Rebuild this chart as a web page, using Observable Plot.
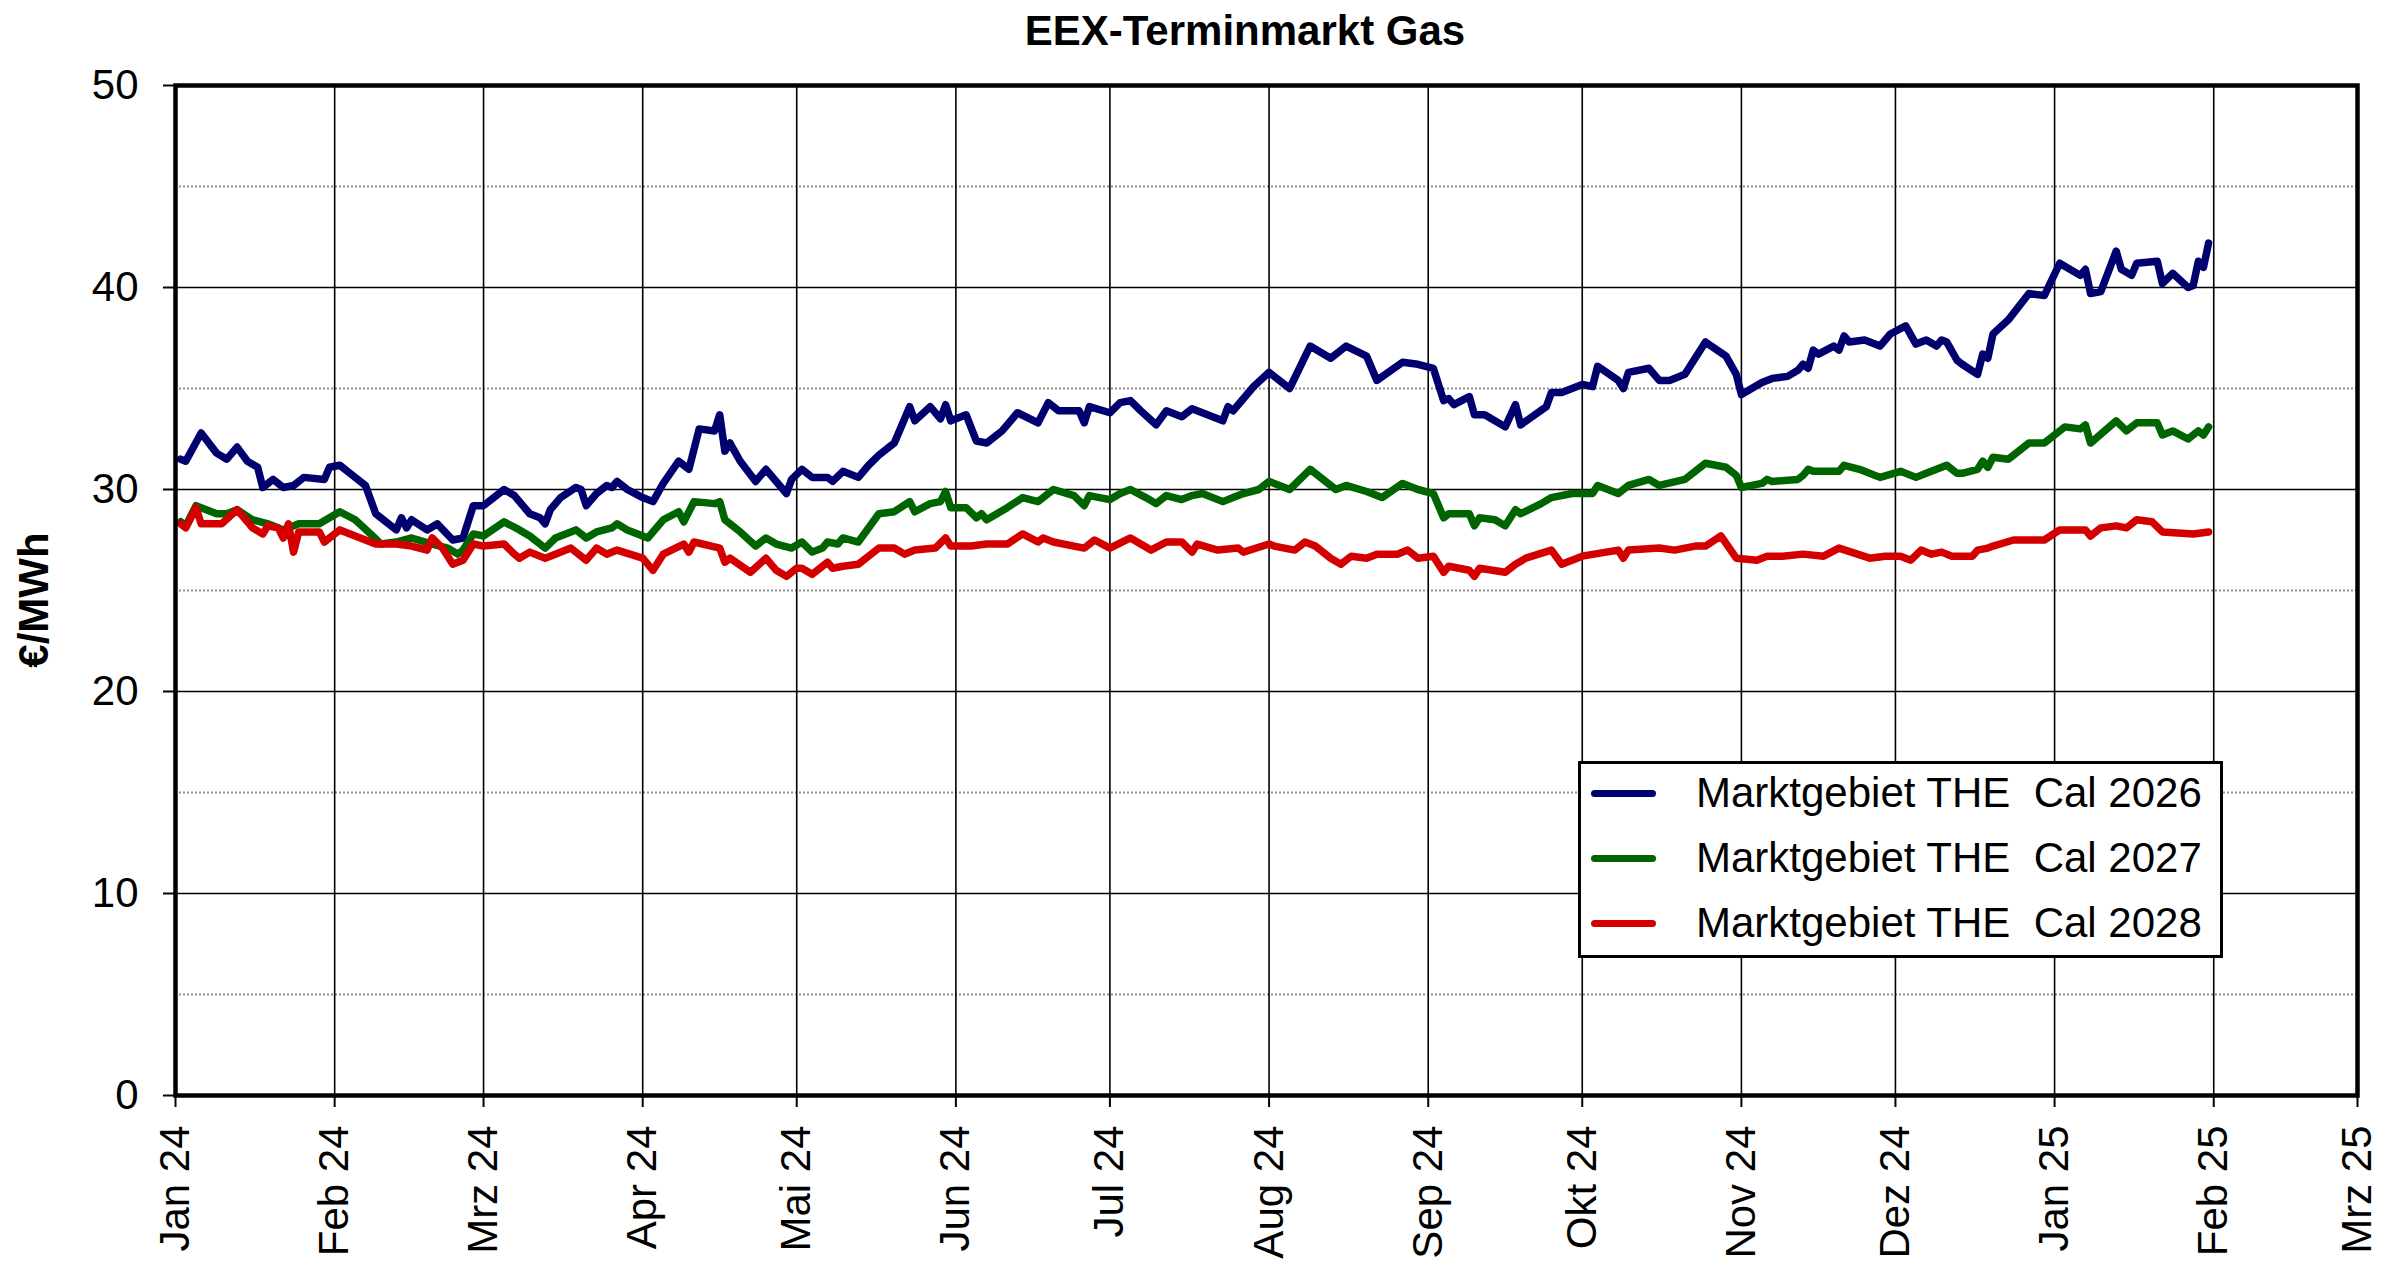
<!DOCTYPE html>
<html>
<head>
<meta charset="utf-8">
<script src="https://cdn.jsdelivr.net/npm/d3@7"></script>
<script src="https://cdn.jsdelivr.net/npm/@observablehq/plot@0.6"></script>
<style>
html,body{margin:0;padding:0;background:#fff;}
#wrap{position:relative;width:2400px;height:1277px;font-family:"Liberation Sans",Arial,sans-serif;color:#000;overflow:hidden;}
#chart{position:absolute;left:0;top:0;}
#title{position:absolute;left:1245px;top:10px;transform:translateX(-50%);font-size:42px;font-weight:bold;line-height:1;white-space:nowrap;}
#ylabel{position:absolute;left:34px;top:600px;transform:translate(-50%,-50%) rotate(-90deg);font-size:42px;font-weight:bold;line-height:1;white-space:nowrap;}
#legend{position:absolute;left:1578px;top:761px;width:645px;height:197px;box-sizing:border-box;border:3px solid #000;background:#fff;}
.lg-line{position:absolute;left:10px;width:65px;height:7px;border-radius:4px;}
.lg-text{position:absolute;left:115px;height:42px;line-height:42px;font-size:42px;white-space:pre;}
</style>
</head>
<body>
<div id="wrap">
  <div id="chart"></div>
  <div id="title">EEX-Terminmarkt Gas</div>
  <div id="ylabel">€/MWh</div>
  <div id="legend"></div>
</div>
<script>
// ---- data ----
const seriesNames = ["Marktgebiet THE  Cal 2026", "Marktgebiet THE  Cal 2027", "Marktgebiet THE  Cal 2028"];
const seriesColors = ["#00006e", "#006400", "#d40000"];
const monthNames = ["Jan","Feb","Mrz","Apr","Mai","Jun","Jul","Aug","Sep","Okt","Nov","Dez"];
const yMajorTicks = [0, 10, 20, 30, 40, 50];
const yMinorTicks = [5, 15, 25, 35, 45];

const dates2026 = ["2024-01-02","2024-01-03","2024-01-06","2024-01-09","2024-01-11","2024-01-13","2024-01-15","2024-01-17","2024-01-18","2024-01-20","2024-01-22","2024-01-24","2024-01-26","2024-01-30","2024-01-31",
"2024-02-02","2024-02-04","2024-02-07","2024-02-09","2024-02-13","2024-02-14","2024-02-15","2024-02-16","2024-02-19","2024-02-21","2024-02-24","2024-02-26","2024-02-28",
"2024-03-01","2024-03-05","2024-03-07","2024-03-10","2024-03-12","2024-03-13","2024-03-14","2024-03-16","2024-03-19","2024-03-20","2024-03-21","2024-03-23","2024-03-25","2024-03-26","2024-03-27","2024-03-29",
"2024-04-01","2024-04-03","2024-04-05","2024-04-08","2024-04-10","2024-04-12","2024-04-15","2024-04-16","2024-04-17","2024-04-18","2024-04-20","2024-04-23","2024-04-25","2024-04-29","2024-04-30",
"2024-05-02","2024-05-04","2024-05-07","2024-05-08","2024-05-10","2024-05-13","2024-05-15","2024-05-17","2024-05-20","2024-05-21","2024-05-23","2024-05-24","2024-05-27","2024-05-29","2024-05-30","2024-05-31",
"2024-06-03","2024-06-05","2024-06-07","2024-06-10","2024-06-13","2024-06-17","2024-06-19","2024-06-21","2024-06-25","2024-06-26","2024-06-27",
"2024-07-01","2024-07-03","2024-07-05","2024-07-07","2024-07-10","2024-07-12","2024-07-15","2024-07-17","2024-07-19","2024-07-23","2024-07-24","2024-07-25","2024-07-29",
"2024-08-01","2024-08-05","2024-08-09","2024-08-13","2024-08-16","2024-08-20","2024-08-22","2024-08-27","2024-08-30",
"2024-09-02","2024-09-04","2024-09-05","2024-09-06","2024-09-09","2024-09-10","2024-09-12","2024-09-16","2024-09-18","2024-09-19","2024-09-24","2024-09-25","2024-09-27",
"2024-10-01","2024-10-03","2024-10-04","2024-10-08","2024-10-09","2024-10-10","2024-10-14","2024-10-16","2024-10-18","2024-10-21","2024-10-25","2024-10-29","2024-10-31",
"2024-11-01","2024-11-05","2024-11-07","2024-11-10","2024-11-12","2024-11-13","2024-11-14","2024-11-15","2024-11-16","2024-11-19","2024-11-20","2024-11-21","2024-11-22","2024-11-25","2024-11-28","2024-11-30",
"2024-12-03","2024-12-05","2024-12-07","2024-12-09","2024-12-10","2024-12-11","2024-12-13","2024-12-14","2024-12-17","2024-12-18","2024-12-19","2024-12-20","2024-12-23","2024-12-27","2024-12-30",
"2025-01-02","2025-01-06","2025-01-07","2025-01-08","2025-01-10","2025-01-13","2025-01-14","2025-01-16","2025-01-17","2025-01-21","2025-01-22","2025-01-24","2025-01-27","2025-01-28","2025-01-29","2025-01-30","2025-01-31"];
const cal2026 = [31.5,31.4,32.8,31.8,31.5,32.1,31.4,31.1,30.1,30.5,30.1,30.2,30.6,30.5,31.1,
31.2,30.8,30.2,28.8,28.0,28.6,28.1,28.5,28.0,28.3,27.5,27.6,29.2,
29.2,30.0,29.7,28.8,28.6,28.3,29.0,29.6,30.1,30.0,29.2,29.8,30.2,30.1,30.4,30.0,
29.6,29.4,30.3,31.4,31.0,33.0,32.9,33.7,31.9,32.3,31.4,30.4,31.0,29.8,30.5,
31.0,30.6,30.6,30.4,30.9,30.6,31.2,31.7,32.3,32.9,34.1,33.4,34.1,33.5,34.2,33.4,
33.7,32.4,32.3,32.9,33.8,33.3,34.3,33.9,33.9,33.3,34.1,
33.8,34.3,34.4,33.9,33.2,33.9,33.6,34.0,33.8,33.4,34.1,33.9,35.1,
35.8,35.0,37.1,36.5,37.1,36.6,35.4,36.3,36.2,
36.0,34.4,34.5,34.2,34.6,33.7,33.7,33.1,34.2,33.2,34.1,34.8,34.8,
35.2,35.1,36.1,35.4,35.0,35.8,36.0,35.4,35.4,35.7,37.3,36.6,35.7,
34.7,35.3,35.5,35.6,35.9,36.2,36.0,36.9,36.7,37.1,36.9,37.6,37.3,37.4,37.1,37.7,
38.1,37.2,37.4,37.1,37.4,37.3,36.4,36.2,35.7,36.7,36.5,37.7,38.4,39.7,39.6,
41.2,40.6,40.9,39.7,39.8,41.8,40.9,40.6,41.2,41.3,40.2,40.7,40.0,40.1,41.3,41.0,42.2];

const dates2027 = ["2024-01-02","2024-01-03","2024-01-05","2024-01-09","2024-01-11","2024-01-13","2024-01-16","2024-01-19","2024-01-22","2024-01-25","2024-01-29",
"2024-02-02","2024-02-05","2024-02-08","2024-02-10","2024-02-13","2024-02-16","2024-02-20","2024-02-23","2024-02-25","2024-02-26","2024-02-28",
"2024-03-01","2024-03-05","2024-03-08","2024-03-10","2024-03-13","2024-03-15","2024-03-19","2024-03-21","2024-03-23","2024-03-26","2024-03-27","2024-03-29",
"2024-04-02","2024-04-05","2024-04-08","2024-04-09","2024-04-11","2024-04-15","2024-04-16","2024-04-17","2024-04-20","2024-04-23","2024-04-25","2024-04-27","2024-04-30",
"2024-05-02","2024-05-04","2024-05-06","2024-05-07","2024-05-09","2024-05-10","2024-05-13","2024-05-17","2024-05-20","2024-05-23","2024-05-24","2024-05-27","2024-05-29","2024-05-30","2024-05-31",
"2024-06-03","2024-06-05","2024-06-06","2024-06-07","2024-06-11","2024-06-14","2024-06-17","2024-06-20","2024-06-24","2024-06-26","2024-06-27",
"2024-07-01","2024-07-03","2024-07-05","2024-07-08","2024-07-10","2024-07-12","2024-07-15","2024-07-17","2024-07-19","2024-07-23","2024-07-25","2024-07-27","2024-07-30",
"2024-08-01","2024-08-05","2024-08-09","2024-08-14","2024-08-16","2024-08-20","2024-08-23","2024-08-27","2024-08-30",
"2024-09-02","2024-09-04","2024-09-05","2024-09-09","2024-09-10","2024-09-11","2024-09-14","2024-09-16","2024-09-18","2024-09-19","2024-09-23","2024-09-25","2024-09-29",
"2024-10-01","2024-10-03","2024-10-04","2024-10-08","2024-10-10","2024-10-14","2024-10-16","2024-10-21","2024-10-25","2024-10-29","2024-10-31",
"2024-11-01","2024-11-05","2024-11-06","2024-11-07","2024-11-12","2024-11-13","2024-11-14","2024-11-15","2024-11-20","2024-11-21","2024-11-24","2024-11-28",
"2024-12-02","2024-12-05","2024-12-07","2024-12-10","2024-12-11","2024-12-13","2024-12-14","2024-12-17","2024-12-18","2024-12-19","2024-12-20","2024-12-23","2024-12-27","2024-12-30",
"2025-01-03","2025-01-06","2025-01-07","2025-01-08","2025-01-13","2025-01-15","2025-01-17","2025-01-21","2025-01-22","2025-01-24","2025-01-27","2025-01-29","2025-01-30","2025-01-31"];
const cal2027 = [28.4,28.2,29.2,28.8,28.8,29.0,28.5,28.3,28.0,28.3,28.3,
28.9,28.5,27.8,27.3,27.4,27.6,27.3,27.1,26.8,27.0,27.8,
27.7,28.4,28.0,27.7,27.1,27.6,28.0,27.6,27.9,28.1,28.3,28.0,
27.6,28.5,28.9,28.4,29.4,29.3,29.4,28.5,27.9,27.2,27.6,27.3,27.1,
27.4,26.9,27.1,27.4,27.3,27.6,27.4,28.8,28.9,29.4,28.9,29.3,29.4,29.9,29.1,
29.1,28.6,28.8,28.5,29.1,29.6,29.4,30.0,29.7,29.2,29.7,
29.5,29.8,30.0,29.6,29.3,29.7,29.5,29.7,29.8,29.4,29.6,29.8,30.0,
30.4,30.0,31.0,30.0,30.2,29.9,29.6,30.3,30.0,
29.8,28.6,28.8,28.8,28.2,28.6,28.5,28.2,29.0,28.8,29.3,29.6,29.8,
29.8,29.8,30.2,29.8,30.2,30.5,30.2,30.5,31.3,31.1,30.7,
30.1,30.3,30.5,30.4,30.5,30.7,31.0,30.9,30.9,31.2,31.0,30.6,
30.9,30.6,30.8,31.1,31.2,30.8,30.8,31.0,31.4,31.1,31.6,31.5,32.3,32.3,
33.1,33.0,33.2,32.3,33.4,32.9,33.3,33.3,32.7,32.9,32.5,32.9,32.7,33.1];

const dates2028 = ["2024-01-02","2024-01-03","2024-01-05","2024-01-06","2024-01-10","2024-01-13","2024-01-16","2024-01-18","2024-01-19","2024-01-21","2024-01-22","2024-01-23","2024-01-24","2024-01-25","2024-01-29","2024-01-30",
"2024-02-02","2024-02-05","2024-02-09","2024-02-13","2024-02-16","2024-02-19","2024-02-20","2024-02-22","2024-02-24","2024-02-26","2024-02-28",
"2024-03-01","2024-03-05","2024-03-07","2024-03-08","2024-03-10","2024-03-13","2024-03-15","2024-03-18","2024-03-21","2024-03-23","2024-03-25","2024-03-27",
"2024-04-01","2024-04-03","2024-04-05","2024-04-09","2024-04-10","2024-04-11","2024-04-16","2024-04-17","2024-04-18","2024-04-22","2024-04-25","2024-04-27","2024-04-29",
"2024-05-01","2024-05-02","2024-05-04","2024-05-07","2024-05-08","2024-05-10","2024-05-13","2024-05-15","2024-05-17","2024-05-20","2024-05-22","2024-05-24","2024-05-28","2024-05-30","2024-05-31",
"2024-06-04","2024-06-07","2024-06-11","2024-06-14","2024-06-17","2024-06-18","2024-06-20","2024-06-24","2024-06-26","2024-06-28",
"2024-07-01","2024-07-05","2024-07-09","2024-07-12","2024-07-15","2024-07-17","2024-07-18","2024-07-22","2024-07-26","2024-07-27",
"2024-08-01","2024-08-02","2024-08-06","2024-08-08","2024-08-10","2024-08-13","2024-08-15","2024-08-17","2024-08-20","2024-08-22","2024-08-26","2024-08-28","2024-08-30",
"2024-09-02","2024-09-04","2024-09-05","2024-09-09","2024-09-10","2024-09-11","2024-09-16","2024-09-18","2024-09-20","2024-09-25","2024-09-27",
"2024-10-01","2024-10-08","2024-10-09","2024-10-10","2024-10-16","2024-10-19","2024-10-23","2024-10-25","2024-10-28","2024-10-31",
"2024-11-04","2024-11-06","2024-11-09","2024-11-13","2024-11-17","2024-11-20","2024-11-26","2024-11-29",
"2024-12-02","2024-12-04","2024-12-06","2024-12-08","2024-12-10","2024-12-12","2024-12-16","2024-12-17","2024-12-19","2024-12-20","2024-12-24","2024-12-30",
"2025-01-02","2025-01-07","2025-01-08","2025-01-10","2025-01-13","2025-01-15","2025-01-17","2025-01-20","2025-01-22","2025-01-28","2025-01-31"];
const cal2028 = [28.3,28.1,29.1,28.3,28.3,29.0,28.1,27.8,28.2,28.1,27.6,28.3,26.9,27.9,27.9,27.4,
28.0,27.7,27.3,27.3,27.2,27.0,27.6,27.1,26.3,26.5,27.3,
27.2,27.3,26.8,26.6,26.9,26.6,26.8,27.1,26.5,27.1,26.8,27.0,
26.6,26.0,26.8,27.3,26.9,27.4,27.1,26.4,26.6,25.9,26.6,26.0,25.7,
26.1,26.1,25.8,26.4,26.1,26.2,26.3,26.7,27.1,27.1,26.8,27.0,27.1,27.6,27.2,
27.2,27.3,27.3,27.8,27.4,27.6,27.4,27.2,27.1,27.5,
27.1,27.6,27.0,27.4,27.4,26.9,27.3,27.0,27.1,26.9,
27.3,27.2,27.0,27.4,27.2,26.6,26.3,26.7,26.6,26.8,26.8,27.0,26.6,
26.7,25.9,26.2,26.0,25.7,26.1,25.9,26.3,26.6,27.0,26.3,
26.7,27.0,26.6,27.0,27.1,27.0,27.2,27.2,27.7,26.6,
26.5,26.7,26.7,26.8,26.7,27.1,26.6,26.7,
26.7,26.5,27.0,26.8,26.9,26.7,26.7,27.0,27.1,27.2,27.5,27.5,
28.0,28.0,27.7,28.1,28.2,28.1,28.5,28.4,27.9,27.8,27.9];

// ---- build rows ----
const seriesDates = [dates2026, dates2027, dates2028];
const seriesValues = [cal2026, cal2027, cal2028];
const rows = [];
seriesNames.forEach((name, i) => {
  seriesDates[i].forEach((d, j) => rows.push({series: name, date: new Date(d + "T00:00:00Z"), value: seriesValues[i][j]}));
});

const xStart = new Date("2024-01-01T00:00:00Z");
const xEnd = new Date("2025-03-01T00:00:00Z");
const monthTicks = d3.utcMonth.range(xStart, new Date("2025-03-02T00:00:00Z"));
const fmtMonth = d => monthNames[d.getUTCMonth()] + " " + String(d.getUTCFullYear()).slice(2);

const chart = Plot.plot({
  width: 2400,
  height: 1277,
  marginTop: 85,
  marginBottom: 182,
  marginLeft: 175,
  marginRight: 43,
  style: {fontFamily: '"Liberation Sans", Arial, sans-serif', fontSize: "42px", color: "#000", background: "#fff"},
  x: {type: "utc", domain: [xStart, xEnd]},
  y: {domain: [0, 50]},
  color: {domain: seriesNames, range: seriesColors},
  marks: [
    Plot.gridY(yMinorTicks, {stroke: "#909090", strokeOpacity: 1, strokeWidth: 2, strokeDasharray: "2,2"}),
    Plot.gridY(yMajorTicks, {stroke: "#000", strokeOpacity: 1, strokeWidth: 1.6}),
    Plot.gridX(monthTicks, {stroke: "#000", strokeOpacity: 1, strokeWidth: 1.6}),
    Plot.axisY(yMajorTicks, {tickSize: 12, tickPadding: 25, label: null, fontSize: 42, strokeWidth: 2}),
    Plot.axisX(monthTicks, {tickFormat: fmtMonth, tickRotate: -90, tickSize: 12, tickPadding: 18, label: null, fontSize: 42, strokeWidth: 2}),
    Plot.line(rows, {x: "date", y: "value", z: "series", stroke: "series", strokeWidth: 7.5, strokeLinejoin: "round", strokeLinecap: "round"}),
    Plot.frame({stroke: "#000", strokeWidth: 4.5})
  ]
});
document.getElementById("chart").appendChild(chart);

// ---- legend ----
const legend = document.getElementById("legend");
const rowCenters = [29, 94, 159];
seriesNames.forEach((name, i) => {
  const ln = document.createElement("div");
  ln.className = "lg-line";
  ln.style.top = (rowCenters[i] - 3.5) + "px";
  ln.style.background = seriesColors[i];
  legend.appendChild(ln);
  const tx = document.createElement("div");
  tx.className = "lg-text";
  tx.style.top = (rowCenters[i] - 21) + "px";
  tx.textContent = name;
  legend.appendChild(tx);
});
</script>
</body>
</html>
